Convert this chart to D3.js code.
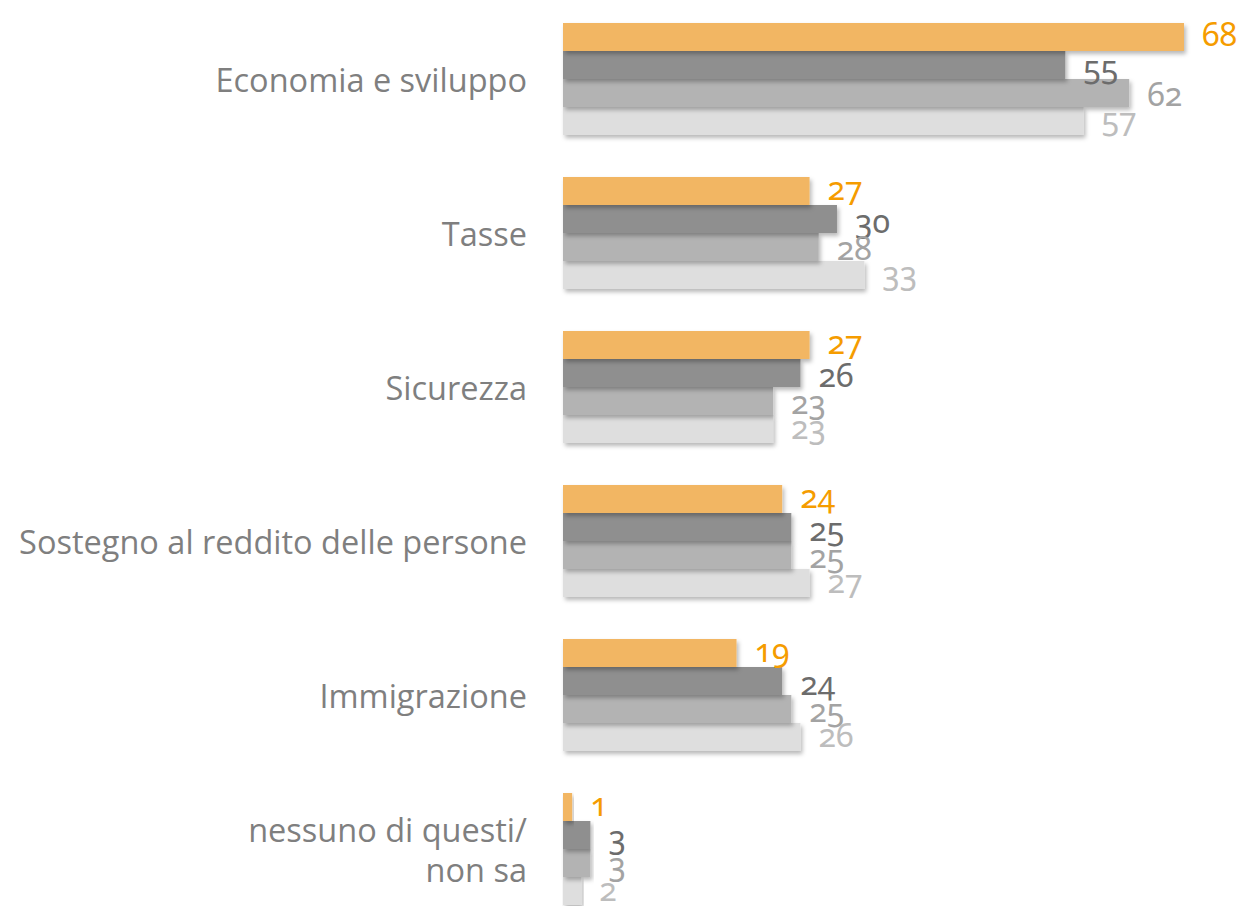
<!DOCTYPE html>
<html>
<head>
<meta charset="utf-8">
<script src="https://cdn.jsdelivr.net/npm/d3@7.9.0/dist/d3.min.js"></script>
<style>
  html, body { margin: 0; padding: 0; background: #fff; }
  svg { display: block; }
  .cat { font-family: "Open Sans", "Noto Sans", sans-serif; fill: #7f7f7f; }
  .val { font-family: "Noto Sans", "Open Sans", sans-serif; font-variant-numeric: oldstyle-nums; font-feature-settings: "onum" 1; }
</style>
</head>
<body>
<svg id="chart" width="1245" height="906"></svg>
<script>
const categories = [
  "Economia e sviluppo",
  "Tasse",
  "Sicurezza",
  "Sostegno al reddito delle persone",
  "Immigrazione",
  "nessuno di questi/\nnon sa"
];
const seriesKeys = ["s1", "s2", "s3", "s4"];
const s1 = [68, 27, 27, 24, 19, 1];
const s2 = [55, 30, 26, 25, 24, 3];
const s3 = [62, 28, 23, 25, 25, 3];
const s4 = [57, 33, 23, 27, 26, 2];

const seriesValues = [s1, s2, s3, s4];
const barColors = ["#f2b663", "#8f8f8f", "#b3b3b3", "#dedede"];
const labelColors = ["#f59c00", "#6c6c6c", "#a3a3a3", "#bdbdbd"];
const labelDy = [0, 5, 4, 1];

const svg = d3.select("#chart");
const x0 = 563;

const defs = svg.append("defs");
const f = defs.append("filter").attr("id", "shadow")
  .attr("x", "-5%").attr("y", "-20%").attr("width", "115%").attr("height", "160%");
f.append("feDropShadow")
  .attr("dx", 2).attr("dy", 3).attr("stdDeviation", 2)
  .attr("flood-color", "#000").attr("flood-opacity", 0.28);

const x = d3.scaleLinear().domain([0, 68]).range([x0, 1184]);

const y = d3.scaleBand()
  .domain(categories)
  .range([2, 926])
  .paddingInner(42 / 154)
  .paddingOuter(21 / 154);

const ySub = d3.scaleBand()
  .domain(seriesKeys)
  .range([0, y.bandwidth()]);

const groups = svg.selectAll("g.grp")
  .data(categories)
  .enter()
  .append("g")
  .attr("class", "grp")
  .attr("transform", d => `translate(0,${y(d)})`);

// bottom series first so the shadows fall under the bars above
seriesKeys.slice().reverse().forEach(key => {
  const si = seriesKeys.indexOf(key);
  groups.append("rect")
    .attr("x", x0)
    .attr("y", ySub(key))
    .attr("width", (d, i) => x(seriesValues[si][i]) - x0)
    .attr("height", ySub.bandwidth())
    .attr("fill", barColors[si])
    .attr("filter", "url(#shadow)");
});

seriesKeys.forEach((key, si) => {
  groups.append("text")
    .attr("class", "val")
    .attr("x", (d, i) => x(seriesValues[si][i]) + 18)
    .attr("y", ySub(key) + ySub.bandwidth() / 2 + labelDy[si])
    .attr("dominant-baseline", "middle")
    .attr("font-size", "32px")
    .attr("fill", labelColors[si])
    .text((d, i) => seriesValues[si][i]);
});

// category labels
groups.each(function (d) {
  const lines = d.split("\n");
  const t = d3.select(this).append("text")
    .attr("class", "cat")
    .attr("text-anchor", "end")
    .attr("x", 527)
    .attr("font-size", "32.5px");
  const lh = 40;
  const c = y.bandwidth() / 2 + 4;
  lines.forEach((ln, k) => {
    t.append("tspan")
      .attr("x", 527)
      .attr("y", c + (k - (lines.length - 1) / 2) * lh)
      .attr("dominant-baseline", "middle")
      .text(ln);
  });
});
</script>
</body>
</html>
